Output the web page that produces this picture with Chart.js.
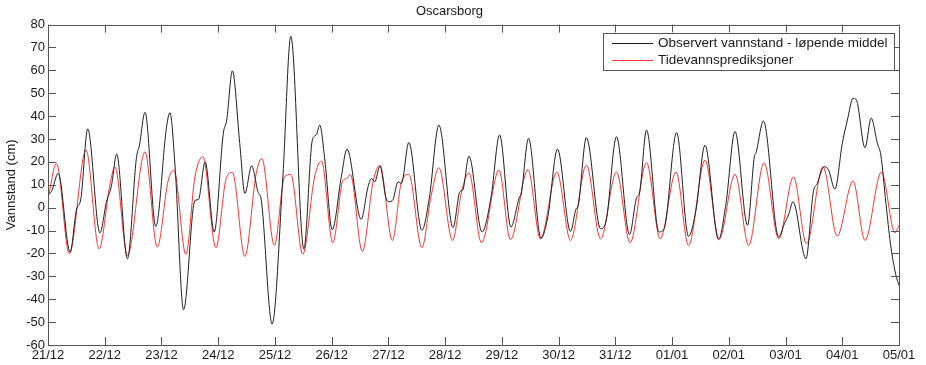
<!DOCTYPE html>
<html>
<head>
<meta charset="utf-8">
<script src="https://cdn.jsdelivr.net/npm/chart.js@4"></script>
<style>
html,body{margin:0;padding:0;background:#fff;}
canvas{display:block;}
</style>
</head>
<body>
<canvas id="c" width="926" height="365"></canvas>
<script>
const dateLabels = ['21/12','22/12','23/12','24/12','25/12','26/12','27/12','28/12','29/12','30/12','31/12','01/01','02/01','03/01','04/01','05/01'];
const yTicks = [-60,-50,-40,-30,-20,-10,0,10,20,30,40,50,60,70,80];
const seriesNames = ['Observert vannstand - løpende middel','Tidevannsprediksjoner'];

// Observed water level (black), time in days since 21/12
const obsT = [0.00,0.06,0.18,0.39,0.50,0.58,0.70,0.915,1.03,1.12,1.21,1.40,1.56,1.61,1.71,1.90,2.09,2.15,2.24,2.39,
  2.59,2.65,2.77,2.93,3.09,3.15,3.25,3.38,3.47,3.59,3.70,3.76,3.95,4.14,4.28,4.51,4.66,4.73,4.79,4.88,
  5.01,5.17,5.27,5.52,5.64,5.70,5.76,5.85,5.96,6.01,6.08,6.17,6.23,6.36,6.59,6.72,6.89,7.14,7.26,7.31,
  7.42,7.65,7.81,7.96,8.16,8.31,8.34,8.47,8.69,8.81,8.98,9.21,9.31,9.34,9.49,9.74,
  9.84,10.02,10.25,10.37,10.43,10.55,10.77,10.86,11.08,11.29,11.42,11.58,11.82,11.95,12.11,
  12.33,12.45,12.48,12.61,12.88,12.98,13.06,13.13,13.36,13.49,13.56,13.68,13.76,13.87,14.00,14.09,14.19,14.25,14.40,14.51,14.62,14.68,14.77,14.85,14.94,15.00];
const obsV = [6,7,15,-19.4,-1,4,34.4,-11,2.5,9.8,23.4,-22.3,22,27,41.7,-8.2,35.4,41.5,17.9,-44.6,
  3.2,3.5,20,-10.6,32.5,38.3,59.8,28,6.2,18.3,7,3.2,-50.8,13.5,74.9,-18,29.6,31.8,36.1,20.8,
  -9.6,13.5,25.6,-5.1,9,12.7,11.3,18.2,4,2.6,3.5,11.3,10.6,28.5,-9.9,4,36.1,-8.7,7,7.7,
  22.5,-10.6,4.7,31.8,-8.4,4.7,6,30.3,-13.3,-4,25.6,-10.4,-0.4,0.5,30.6,-9.2,
  -5.5,31,-11.7,4,7,33.9,-10.6,-9.2,32.8,-12.5,-1.2,27.3,-14,1.8,33.3,
  -7.7,22.3,24,37.9,-12.8,-7,-2.6,2.6,-22.3,7,10.6,17.9,16.4,8.1,28,38.3,47.8,47,26.2,39.1,28,23,1.8,-15.8,-28.9,-34];

// Tide predictions (red)
const predT = [0.00,0.15,0.375,0.67,0.90,1.09,1.18,1.40,1.71,1.925,2.12,2.22,2.43,
  2.59,2.73,2.96,3.14,3.25,3.47,3.67,3.77,3.99,4.17,4.28,4.49,4.70,4.82,
  5.02,5.20,5.26,5.33,5.54,5.73,5.85,6.07,6.23,6.36,6.59,6.75,6.89,7.13,7.29,
  7.42,7.64,7.95,8.15,8.46,8.68,8.97,9.21,9.49,9.74,
  10.02,10.26,10.55,10.79,11.07,11.29,11.58,11.83,12.11,12.35,
  12.62,12.88,13.14,13.37,13.66,13.91,14.19,14.40,14.69,14.93,15.00];
const predV = [4,19.3,-20.1,25.2,-18,9.8,17.9,-20.9,24.4,-17.2,12,16.4,-20.4,
  13.5,22.3,-17.5,12.7,15.4,-21.3,14.9,21.5,-16.5,13.5,14.5,-20.4,13.5,20.4,
  -15.3,12,12.7,14.5,-19.1,11.3,18.6,-14.3,11.3,14.5,-17.5,4.7,17.5,-14.3,7,
  15.2,-15.3,16.4,-14,16.7,-13.7,15.6,-14.3,18.6,-13.6,
  15.6,-15.3,19.8,-13.6,15.6,-16.5,20.8,-13.6,14.6,-16.5,
  19.6,-13.6,13.5,-15.8,17.9,-12.4,11.7,-14.3,15.6,-11,-7.7];

const FONT = "'Liberation Sans', Arial, sans-serif";
const TEXT = '#1a1a1a';
const FRAME = '#555';

const framePlugin = {
  id: 'frame',
  afterDatasetsDraw(chart) {
    const ctx = chart.ctx, a = chart.chartArea;
    const xs = chart.scales.x, ys = chart.scales.y;
    const L = 8;
    ctx.save();
    ctx.strokeStyle = FRAME;
    ctx.lineWidth = 1;
    ctx.beginPath();
    dateLabels.forEach((_, i) => {
      const px = Math.round(xs.getPixelForValue(i)) + 0.5;
      ctx.moveTo(px, a.bottom); ctx.lineTo(px, a.bottom - L);
      ctx.moveTo(px, a.top); ctx.lineTo(px, a.top + L);
    });
    yTicks.forEach(v => {
      const py = Math.round(ys.getPixelForValue(v)) + 0.5;
      ctx.moveTo(a.left, py); ctx.lineTo(a.left + L, py);
      ctx.moveTo(a.right, py); ctx.lineTo(a.right - L, py);
    });
    ctx.stroke();
    ctx.strokeRect(Math.round(a.left) + 0.5, Math.round(a.top) + 0.5, Math.round(a.right - a.left), Math.round(a.bottom - a.top));

    // legend box (top right inside plot)
    const bx = a.right - 296, by = a.top + 8, bw = 291, bh = 37;
    ctx.fillStyle = '#fff';
    ctx.fillRect(bx, by, bw, bh);
    ctx.strokeStyle = FRAME;
    ctx.strokeRect(Math.round(bx) + 0.5, Math.round(by) + 0.5, bw, bh);
    ctx.font = "13.5px " + FONT;
    ctx.textBaseline = 'middle';
    chart.data.datasets.forEach((ds, i) => {
      const ry = by + 10.5 + i * 17;
      ctx.strokeStyle = ds.borderColor;
      ctx.lineWidth = 1;
      ctx.beginPath();
      ctx.moveTo(bx + 9, Math.round(ry) + 0.5);
      ctx.lineTo(bx + 50, Math.round(ry) + 0.5);
      ctx.stroke();
      ctx.fillStyle = TEXT;
      ctx.fillText(ds.label, bx + 55, ry);
    });
    ctx.restore();
  }
};

new Chart(document.getElementById('c'), {
  type: 'line',
  data: {
    datasets: [
      {
        label: seriesNames[0],
        data: obsT.map((t, i) => ({x: t, y: obsV[i]})),
        borderColor: '#1f1f1f',
        borderWidth: 1,
        pointRadius: 0,
        cubicInterpolationMode: 'monotone',
        fill: false
      },
      {
        label: seriesNames[1],
        data: predT.map((t, i) => ({x: t, y: predV[i]})),
        borderColor: '#ff3333',
        borderWidth: 1,
        pointRadius: 0,
        cubicInterpolationMode: 'monotone',
        fill: false
      }
    ]
  },
  options: {
    responsive: false,
    devicePixelRatio: 1,
    animation: false,
    events: [],
    layout: { padding: { left: 0, right: 27, top: 0, bottom: 0 } },
    plugins: {
      legend: { display: false },
      tooltip: { enabled: false },
      title: {
        display: true,
        text: 'Oscarsborg',
        color: TEXT,
        font: { family: FONT, size: 13, weight: 'normal' },
        padding: { top: 4, bottom: 5 }
      }
    },
    scales: {
      x: {
        type: 'linear',
        min: 0,
        max: dateLabels.length - 1,
        afterBuildTicks: (s) => { s.ticks = dateLabels.map((_, i) => ({value: i})); },
        afterFit: (s) => { s.height = 20; },
        ticks: {
          autoSkip: false,
          maxRotation: 0,
          padding: 3,
          color: TEXT,
          font: { family: FONT, size: 13 },
          callback: (v) => dateLabels[v]
        },
        grid: { drawOnChartArea: false, drawTicks: false },
        border: { display: false }
      },
      y: {
        min: yTicks[0],
        max: yTicks[yTicks.length - 1],
        afterBuildTicks: (s) => { s.ticks = yTicks.map(v => ({value: v})); },
        afterFit: (s) => { s.width = 48; },
        ticks: {
          padding: 3,
          color: TEXT,
          font: { family: FONT, size: 13 }
        },
        title: {
          display: true,
          text: 'Vannstand (cm)',
          color: TEXT,
          font: { family: FONT, size: 13 },
          padding: { top: 4, bottom: 0 }
        },
        grid: { drawOnChartArea: false, drawTicks: false },
        border: { display: false }
      }
    }
  },
  plugins: [framePlugin]
});
</script>
</body>
</html>
